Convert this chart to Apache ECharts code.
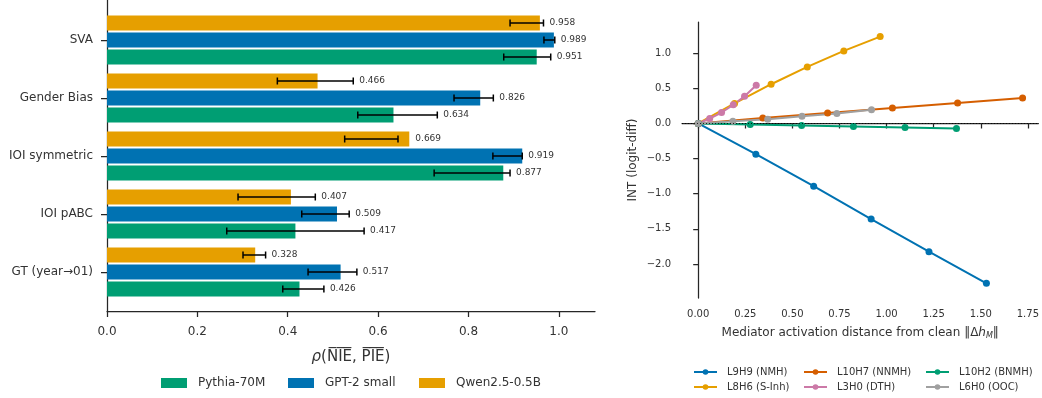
<!DOCTYPE html>
<html><head><meta charset="utf-8">
<script src="https://cdn.jsdelivr.net/npm/echarts@6/dist/echarts.min.js"></script>
<style>html,body{margin:0;padding:0;background:#fff}#c{width:1042px;height:398px}</style>
</head><body><div id="c"></div>
<script>
// ---- Left panel data ----
const categories = ['SVA', 'Gender Bias', 'IOI symmetric', 'IOI pABC', 'GT (year→01)'];
const pythia   = [0.951, 0.634, 0.877, 0.417, 0.426];
const pythiaLo = [0.878, 0.555, 0.724, 0.265, 0.389];
const pythiaHi = [0.982, 0.731, 0.892, 0.569, 0.480];
const gpt2     = [0.989, 0.826, 0.919, 0.509, 0.517];
const gpt2Lo   = [0.967, 0.768, 0.854, 0.431, 0.445];
const gpt2Hi   = [0.991, 0.855, 0.919, 0.536, 0.553];
const qwen     = [0.958, 0.466, 0.669, 0.407, 0.328];
const qwenLo   = [0.892, 0.377, 0.526, 0.290, 0.301];
const qwenHi   = [0.966, 0.545, 0.644, 0.461, 0.351];
const leftTicks = [0, 0.2, 0.4, 0.6, 0.8, 1.0];

// ---- Right panel data ----
const l9h9X  = [0, 0.306, 0.613, 0.918, 1.225, 1.530];
const l9h9Y  = [0, -0.437, -0.892, -1.361, -1.826, -2.276];
const l8h6X  = [0, 0.193, 0.387, 0.579, 0.773, 0.966];
const l8h6Y  = [0, 0.285, 0.559, 0.805, 1.033, 1.237];
const l10h7X = [0, 0.343, 0.687, 1.031, 1.377, 1.722];
const l10h7Y = [0, 0.078, 0.148, 0.222, 0.293, 0.364];
const l3h0X  = [0, 0.061, 0.124, 0.186, 0.246, 0.308];
const l3h0Y  = [0, 0.071, 0.156, 0.265, 0.388, 0.545];
const l10h2X = [0, 0.276, 0.549, 0.824, 1.098, 1.371];
const l10h2Y = [0, -0.014, -0.028, -0.043, -0.057, -0.071];
const l6h0X  = [0, 0.184, 0.369, 0.551, 0.736, 0.920];
const l6h0Y  = [0, 0.033, 0.061, 0.104, 0.142, 0.194];
const rightXTicks = [0, 0.25, 0.5, 0.75, 1.0, 1.25, 1.5, 1.75];
const rightYTicks = [-2.0, -1.5, -1.0, -0.5, 0.0, 0.5, 1.0];

const FONT = 'DejaVu Sans';
const INK = '#262626';
const C = {blue:'#0072B2', orange:'#E69F00', green:'#009E73', verm:'#D55E00', pink:'#CC79A7', gray:'#A0A0A0'};

const zip = (xs, ys) => xs.map((x, i) => [x, ys[i]]);

function errSeries(name, vals, lo, hi, offset) {
  return {
    type: 'custom', name: name + '_err', xAxisIndex: 1, yAxisIndex: 1, z: 5, silent: true,
    data: categories.map((c, i) => [i, lo[i], hi[i], vals[i]]),
    renderItem: function (params, api) {
      const idx = api.value(0);
      const pLo = api.coord([api.value(1), idx]);
      const pHi = api.coord([api.value(2), idx]);
      const pV = api.coord([api.value(3), idx]);
      const y = pLo[1] + offset;
      const cap = 3.5;
      const st = {stroke: '#000', lineWidth: 1.5};
      const tx = Math.max(pHi[0], pV[0]) + 6;
      return {type: 'group', children: [
        {type: 'line', shape: {x1: pLo[0], y1: y, x2: pHi[0], y2: y}, style: st},
        {type: 'line', shape: {x1: pLo[0], y1: y - cap, x2: pLo[0], y2: y + cap}, style: st},
        {type: 'line', shape: {x1: pHi[0], y1: y - cap, x2: pHi[0], y2: y + cap}, style: st},
        {type: 'text', x: tx, y: y, style: {text: api.value(3).toFixed(3), fill: '#333', font: '9px "DejaVu Sans"', textVerticalAlign: 'middle', verticalAlign: 'middle'}}
      ]};
    }
  };
}

function lineSeries(name, data, color, extra) {
  return Object.assign({
    type: 'line', name: name, xAxisIndex: 2, yAxisIndex: 2, data: data,
    symbol: 'circle', symbolSize: 7, showSymbol: true,
    lineStyle: {width: 2, color: color}, itemStyle: {color: color}
  }, extra || {});
}

function legendAt(name, left, top, iconType) {
  const o = {
    data: [name], left: left, top: top, selectedMode: false, padding: 0,
    textStyle: {fontFamily: FONT, color: '#333'}
  };
  if (iconType === 'rect') {
    o.icon = 'rect'; o.itemWidth = 26; o.itemHeight = 10;
    o.textStyle.fontSize = 12; o.textStyle.padding = [0, 0, 0, 6];
  } else {
    o.itemWidth = 23; o.itemHeight = 7;
    o.textStyle.fontSize = 10; o.textStyle.padding = [0, 0, 0, 5];
  }
  return o;
}

const axLine = {show: true, lineStyle: {color: INK, width: 1.25}};
const tick = {show: true, length: 6, lineStyle: {color: INK, width: 1.25}};

const option = {
  animation: false,
  textStyle: {fontFamily: FONT},
  grid: [
    {left: 107, top: 0, width: 488, height: 311},
    {left: 107, top: 11, width: 488, height: 290},
    {left: 682, top: 22, width: 358, height: 276}
  ],
  xAxis: [
    {gridIndex: 0, type: 'value', min: 0, max: 1.08,
     axisLine: axLine, axisTick: Object.assign({customValues: leftTicks}, tick),
     axisLabel: {customValues: leftTicks, formatter: v => v.toFixed(1), fontSize: 12, color: '#333', margin: 15, fontFamily: FONT},
     splitLine: {show: false},
     name: '{it|ρ}(N\u0305I\u0305E\u0305, P\u0305I\u0305E\u0305)', nameLocation: 'middle', nameGap: 39,
     nameTextStyle: {fontSize: 15, color: '#333', fontFamily: FONT,
       rich: {it: {fontStyle: 'italic', fontSize: 15, color: '#333', fontFamily: FONT}}}},
    {gridIndex: 1, type: 'value', min: 0, max: 1.08, show: false},
    {gridIndex: 2, type: 'value', min: -0.086, max: 1.806,
     axisLine: axLine, axisTick: Object.assign({customValues: rightXTicks}, tick, {length: 5}),
     axisLabel: {customValues: rightXTicks, formatter: v => v.toFixed(2), fontSize: 10, color: '#333', margin: 11, fontFamily: FONT},
     splitLine: {show: false},
     name: 'Mediator activation distance from clean ‖Δ{i|h}{sub|M}‖', nameLocation: 'middle', nameGap: 28,
     nameTextStyle: {fontSize: 12, color: '#333', fontFamily: FONT,
       rich: {i: {fontStyle: 'italic', fontSize: 12, color: '#333', fontFamily: FONT},
              sub: {fontStyle: 'italic', fontSize: 8, color: '#333', padding: [6, 0, 0, 0], fontFamily: FONT}}}}
  ],
  yAxis: [
    {gridIndex: 0, type: 'value', min: 0, max: 1, axisLine: axLine, axisTick: {show: false},
     axisLabel: {show: false}, splitLine: {show: false}},
    {gridIndex: 1, type: 'category', data: categories, inverse: true,
     axisLine: {show: false}, axisTick: Object.assign({alignWithLabel: true}, tick),
     axisLabel: {fontSize: 12, color: '#333', margin: 14, fontFamily: FONT}},
    {gridIndex: 2, type: 'value', min: -2.485, max: 1.445,
     axisLine: axLine, axisTick: Object.assign({customValues: rightYTicks}, tick, {length: 5}),
     axisLabel: {customValues: rightYTicks, formatter: v => v.toFixed(1).replace('-', '−'), fontSize: 10, color: '#333', margin: 11, fontFamily: FONT},
     splitLine: {show: false},
     name: 'INT (logit-diff)', nameLocation: 'middle', nameGap: 43, nameRotate: 90,
     nameTextStyle: {fontSize: 12, color: '#333', fontFamily: FONT}}
  ],
  legend: [
    legendAt('Pythia-70M', 161, 377, 'rect'),
    legendAt('GPT-2 small', 288, 377, 'rect'),
    legendAt('Qwen2.5-0.5B', 419, 377, 'rect'),
    legendAt('L9H9 (NMH)', 693, 367),
    legendAt('L10H7 (NNMH)', 803, 367),
    legendAt('L10H2 (BNMH)', 925, 367),
    legendAt('L8H6 (S-Inh)', 693, 382),
    legendAt('L3H0 (DTH)', 803, 382),
    legendAt('L6H0 (OOC)', 925, 382)
  ],
  series: [
    {type: 'bar', name: 'Qwen2.5-0.5B', xAxisIndex: 1, yAxisIndex: 1, data: qwen, barWidth: 15, barGap: '13%', itemStyle: {color: C.orange}},
    {type: 'bar', name: 'GPT-2 small', xAxisIndex: 1, yAxisIndex: 1, data: gpt2, barWidth: 15, barGap: '13%', itemStyle: {color: C.blue}},
    {type: 'bar', name: 'Pythia-70M', xAxisIndex: 1, yAxisIndex: 1, data: pythia, barWidth: 15, barGap: '13%', itemStyle: {color: C.green}},
    errSeries('Qwen2.5-0.5B', qwen, qwenLo, qwenHi, -17),
    errSeries('GPT-2 small', gpt2, gpt2Lo, gpt2Hi, 0),
    errSeries('Pythia-70M', pythia, pythiaLo, pythiaHi, 17),
    lineSeries('L9H9 (NMH)', zip(l9h9X, l9h9Y), C.blue, {
      markLine: {silent: true, symbol: 'none', label: {show: false},
        lineStyle: {color: '#000', type: [1, 2], width: 0.8}, data: [{yAxis: 0}]}}),
    lineSeries('L8H6 (S-Inh)', zip(l8h6X, l8h6Y), C.orange),
    lineSeries('L10H7 (NNMH)', zip(l10h7X, l10h7Y), C.verm),
    lineSeries('L3H0 (DTH)', zip(l3h0X, l3h0Y), C.pink),
    lineSeries('L10H2 (BNMH)', zip(l10h2X, l10h2Y), C.green),
    lineSeries('L6H0 (OOC)', zip(l6h0X, l6h0Y), C.gray)
  ]
};
const chart = echarts.init(document.getElementById('c'), null, {renderer: 'canvas'});
chart.setOption(option);
</script>
</body></html>
